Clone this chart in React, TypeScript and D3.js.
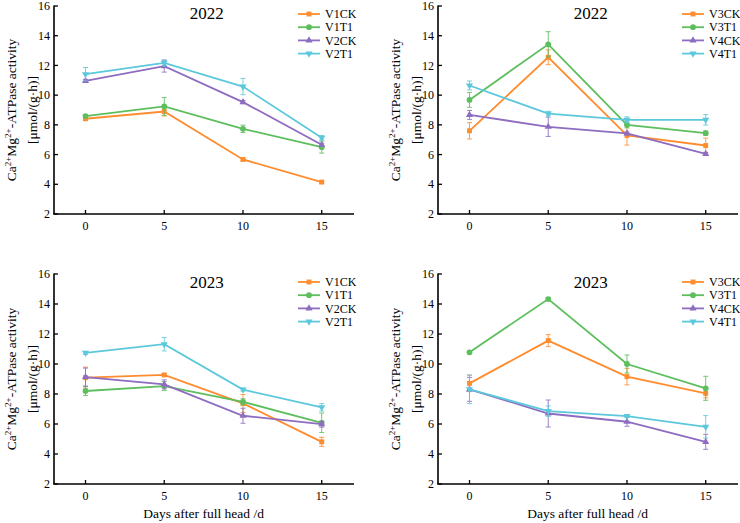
import React from 'react';
import * as d3 from 'd3';

const days = [0, 5, 10, 15];
const yTicks = [2, 4, 6, 8, 10, 12, 14, 16];
const xTicks = [0, 5, 10, 15];
const colors = ['#FF8C2E', '#5DBE5D', '#8E6CC0', '#5CC8DC'];
const markers = ['square', 'circle', 'triangle', 'triangleDown'];

// 2022, V1/V2
const a22Names = ['V1CK', 'V1T1', 'V2CK', 'V2T1'];
const a22Values = [
  [8.41, 8.9, 5.67, 4.15],
  [8.59, 9.24, 7.73, 6.5],
  [10.96, 11.95, 9.53, 6.66],
  [11.41, 12.17, 10.58, 7.13],
];
const a22Err = [
  [0.1, 0.3, 0.1, 0.1],
  [0.1, 0.6, 0.25, 0.4],
  [0.1, 0.4, 0.1, 0.1],
  [0.45, 0.2, 0.55, 0.15],
];

// 2022, V3/V4
const b22Names = ['V3CK', 'V3T1', 'V4CK', 'V4T1'];
const b22Values = [
  [7.6, 12.55, 7.29, 6.61],
  [9.68, 13.42, 8.0, 7.44],
  [8.67, 7.87, 7.42, 6.05],
  [10.65, 8.76, 8.34, 8.34],
];
const b22Err = [
  [0.55, 0.5, 0.65, 0.5],
  [0.5, 0.85, 0.2, 0.15],
  [0.3, 0.65, 0.1, 0.1],
  [0.3, 0.15, 0.2, 0.35],
];

// 2023, V1/V2
const a23Names = ['V1CK', 'V1T1', 'V2CK', 'V2T1'];
const a23Values = [
  [9.09, 9.27, 7.37, 4.81],
  [8.2, 8.53, 7.48, 6.08],
  [9.13, 8.64, 6.55, 5.99],
  [10.74, 11.32, 8.29, 7.11],
];
const a23Err = [
  [0.7, 0.1, 0.6, 0.3],
  [0.3, 0.3, 0.2, 0.65],
  [0.6, 0.3, 0.5, 0.2],
  [0.1, 0.45, 0.1, 0.25],
];

// 2023, V3/V4
const b23Names = ['V3CK', 'V3T1', 'V4CK', 'V4T1'];
const b23Values = [
  [8.71, 11.56, 9.16, 8.04],
  [10.78, 14.33, 10.0, 8.38],
  [8.31, 6.7, 6.15, 4.81],
  [8.31, 6.86, 6.53, 5.81],
];
const b23Err = [
  [0.55, 0.4, 0.55, 0.3],
  [0.1, 0.1, 0.6, 0.8],
  [0.8, 0.9, 0.3, 0.5],
  [0.95, 0.35, 0.1, 0.75],
];

const font = '"Liberation Serif", "Times New Roman", serif';

function Marker({ type, x, y, color }: { type: string; x: number; y: number; color: string }) {
  const symType =
    type === 'square' ? d3.symbolSquare : type === 'circle' ? d3.symbolCircle : d3.symbolTriangle;
  const size = type === 'circle' ? 26 : type === 'square' ? 24 : 22;
  const path = d3.symbol(symType, size)() || '';
  const rot = type === 'triangleDown' ? ' rotate(180)' : '';
  return <path d={path} transform={`translate(${x},${y})${rot}`} fill={color} />;
}

interface PanelProps {
  left: number;
  top: number;
  height: number;
  title: string;
  names: string[];
  values: number[][];
  errs: number[][];
  showXLabel: boolean;
}

function Panel({ left, top, height, title, names, values, errs, showXLabel }: PanelProps) {
  const x = d3.scaleLinear().domain([-2, 17.05]).range([left, left + 300]);
  const y = d3.scaleLinear().domain([2, 16]).range([top + height, top]);
  const line = d3
    .line<number>()
    .x((_, i) => x(days[i]))
    .y((d) => y(d));
  const x0 = x(-2);
  const y0 = y(2);
  const legX = left + 244;
  return (
    <g fontFamily={font}>
      {/* axes */}
      <line x1={x0} x2={x0} y1={y(16) - 0.5} y2={y0} stroke="#000" strokeWidth={1.6} />
      <line x1={x0 - 0.8} x2={x(17.05)} y1={y0} y2={y0} stroke="#000" strokeWidth={1.6} />
      {yTicks.map((t) => (
        <g key={'y' + t}>
          <line x1={x0} x2={x0 + 4} y1={y(t)} y2={y(t)} stroke="#000" strokeWidth={1.3} />
          <text x={x0 - 4} y={y(t)} dy="0.35em" textAnchor="end" fontSize={12}>
            {t}
          </text>
        </g>
      ))}
      {xTicks.map((t) => (
        <g key={'x' + t}>
          <line x1={x(t)} x2={x(t)} y1={y0} y2={y0 - 4} stroke="#000" strokeWidth={1.3} />
          <text x={x(t)} y={y0 + 16} textAnchor="middle" fontSize={12}>
            {t}
          </text>
        </g>
      ))}
      {/* y axis label */}
      <g transform={`translate(${left - 38},${(y(16) + y0) / 2}) rotate(-90)`}>
        <text textAnchor="middle" fontSize={13.5} y={0}>
          Ca
          <tspan dy={-5} fontSize={9}>
            2+
          </tspan>
          <tspan dy={5}>Mg</tspan>
          <tspan dy={-5} fontSize={9}>
            2+
          </tspan>
          <tspan dy={5}>-ATPase activity</tspan>
        </text>
        <text textAnchor="middle" fontSize={13.5} y={21}>
          [μmol/(g·h)]
        </text>
      </g>
      {showXLabel && (
        <text x={x(7.5)} y={y0 + 34} textAnchor="middle" fontSize={13.5}>
          Days after full head /d
        </text>
      )}
      <text x={x(7.7)} y={y(15.1)} textAnchor="middle" fontSize={17}>
        {title}
      </text>
      {/* series */}
      {values.map((vals, s) => (
        <g key={names[s]}>
          <path d={line(vals) || ''} fill="none" stroke={colors[s]} strokeWidth={1.8} />
          {vals.map((v, i) => {
            const e = errs[s][i];
            const cx = x(days[i]);
            return (
              <g key={i} stroke={colors[s]} strokeWidth={1} opacity={0.85}>
                <line x1={cx} x2={cx} y1={y(v - e)} y2={y(v + e)} />
                <line x1={cx - 2.5} x2={cx + 2.5} y1={y(v + e)} y2={y(v + e)} />
                <line x1={cx - 2.5} x2={cx + 2.5} y1={y(v - e)} y2={y(v - e)} />
              </g>
            );
          })}
          {vals.map((v, i) => (
            <Marker key={'m' + i} type={markers[s]} x={x(days[i])} y={y(v)} color={colors[s]} />
          ))}
        </g>
      ))}
      {/* legend */}
      {names.map((n, s) => {
        const ly = top + 8 + s * 13.2;
        return (
          <g key={'leg' + n}>
            <line x1={legX} x2={legX + 22} y1={ly} y2={ly} stroke={colors[s]} strokeWidth={1.8} />
            <Marker type={markers[s]} x={legX + 11} y={ly} color={colors[s]} />
            <text x={legX + 27} y={ly} dy="0.35em" fontSize={12}>
              {n}
            </text>
          </g>
        );
      })}
    </g>
  );
}

export default function App() {
  return (
    <svg width={740} height={523} style={{ position: 'absolute', left: 0, top: 0, background: '#fff' }}>
      <rect width={740} height={523} fill="#fff" />
      <Panel left={54} top={6} height={208} title="2022" names={a22Names} values={a22Values} errs={a22Err} showXLabel={false} />
      <Panel left={438} top={6} height={208} title="2022" names={b22Names} values={b22Values} errs={b22Err} showXLabel={false} />
      <Panel left={54} top={274} height={210} title="2023" names={a23Names} values={a23Values} errs={a23Err} showXLabel={true} />
      <Panel left={438} top={274} height={210} title="2023" names={b23Names} values={b23Values} errs={b23Err} showXLabel={true} />
    </svg>
  );
}
